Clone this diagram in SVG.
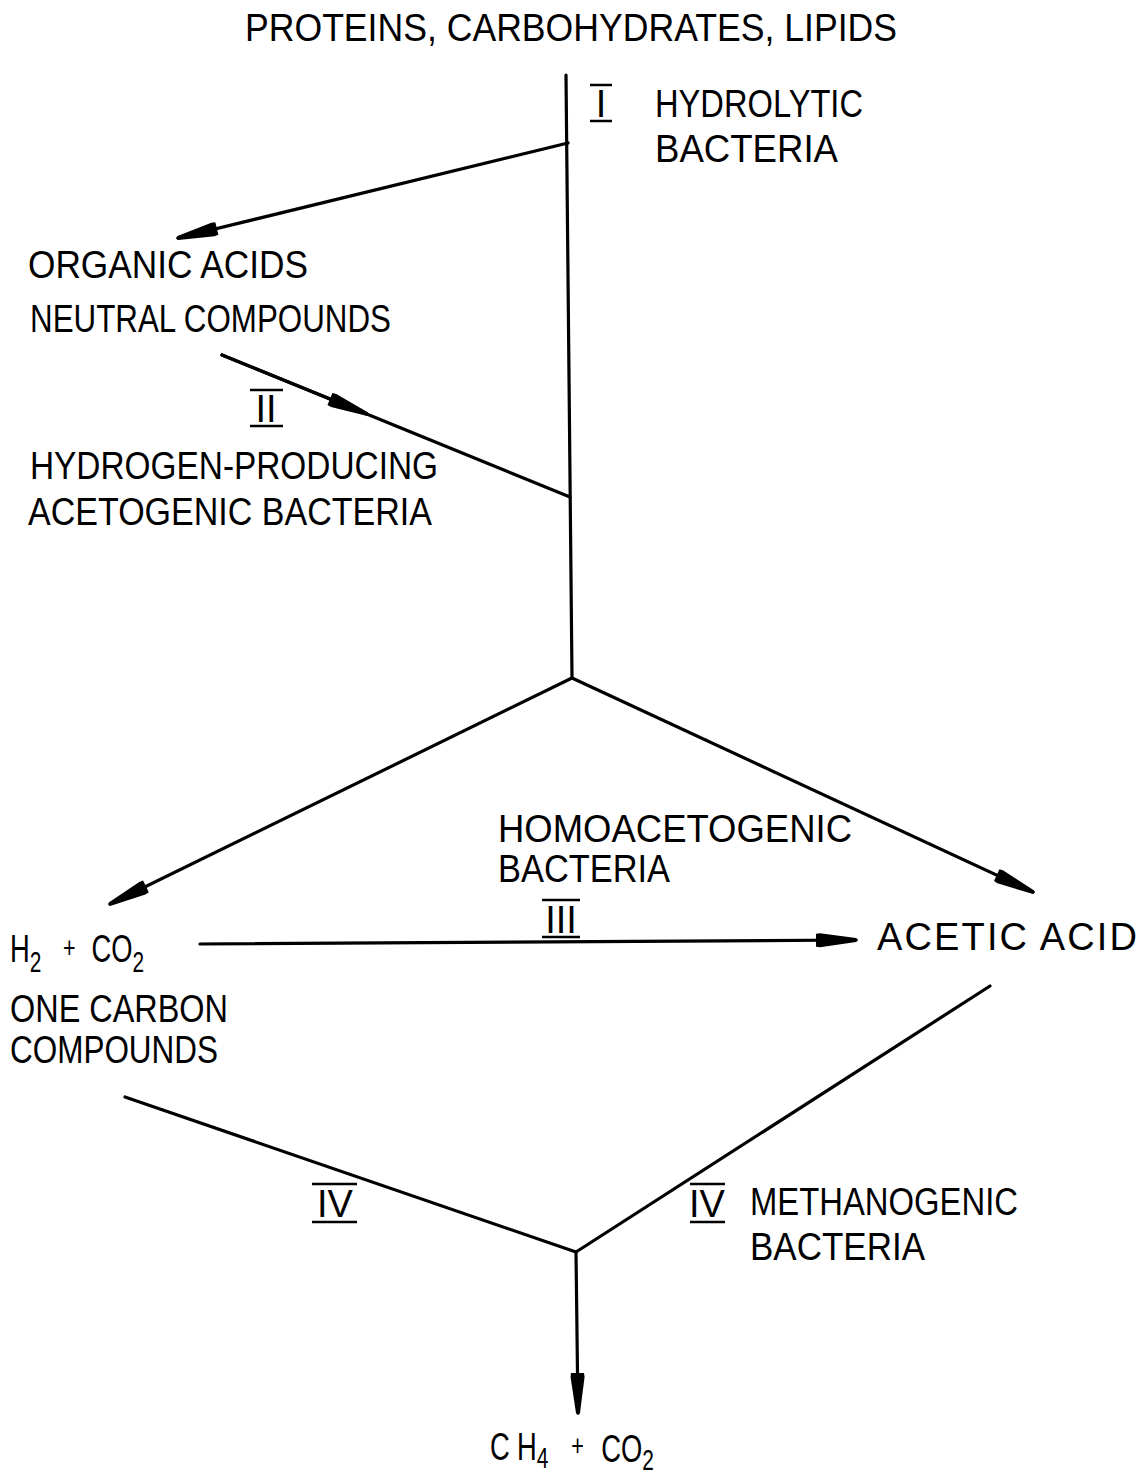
<svg xmlns="http://www.w3.org/2000/svg" width="1147" height="1477" viewBox="0 0 1147 1477">
<style>
text { font-family: "Liberation Sans", Arial, sans-serif; font-size: 38px; fill: #000; }
.sub { font-size: 29px; }
.plus { font-size: 30px; }
.num { text-anchor: middle; }
.ln { stroke: #000; stroke-width: 3.2; fill: none; stroke-linecap: round; }
.bar { stroke: #000; stroke-width: 2.5; }
</style>
<defs>
<marker id="ah" markerUnits="userSpaceOnUse" viewBox="-44 -9 46 18" refX="0" refY="0" markerWidth="46" markerHeight="18" orient="auto">
<path d="M-40,-6.5 L-36,-7 L0,-2 L2,0 L0,2 L-36,7 L-40,6.5 Z" fill="#000"/>
</marker>
</defs>
<rect width="1147" height="1477" fill="#fff"/>

<g id="connectors">
<line class="ln" x1="566" y1="75" x2="572" y2="678"/>
<line class="ln" x1="568" y1="143" x2="178" y2="238" marker-end="url(#ah)"/>
<line class="ln" x1="222" y1="355" x2="570" y2="497"/>
<line class="ln" x1="222" y1="355" x2="367" y2="414" marker-end="url(#ah)"/>
<line class="ln" x1="572" y1="678" x2="110" y2="904" marker-end="url(#ah)"/>
<line class="ln" x1="572" y1="678" x2="1033" y2="892" marker-end="url(#ah)"/>
<line class="ln" x1="200" y1="944" x2="856" y2="940" marker-end="url(#ah)"/>
<line class="ln" x1="990" y1="986" x2="576" y2="1252"/>
<line class="ln" x1="125" y1="1097" x2="576" y2="1252"/>
<line class="ln" x1="576" y1="1252" x2="578" y2="1413" marker-end="url(#ah)"/>
</g>

<g id="n-substrates">
<text x="245" y="41" textLength="652" lengthAdjust="spacingAndGlyphs">PROTEINS, CARBOHYDRATES, LIPIDS</text>
</g>

<g id="n-hydrolytic">
<line class="bar" x1="590" y1="85" x2="612" y2="85"/>
<text class="num" x="601" y="117">I</text>
<line class="bar" x1="590" y1="121" x2="612" y2="121"/>
<text x="655" y="117" textLength="208" lengthAdjust="spacingAndGlyphs">HYDROLYTIC</text>
<text x="655" y="162" textLength="183" lengthAdjust="spacingAndGlyphs">BACTERIA</text>
</g>

<g id="n-organic">
<text x="28" y="278" textLength="280" lengthAdjust="spacingAndGlyphs">ORGANIC ACIDS</text>
<text x="30" y="332" textLength="361" lengthAdjust="spacingAndGlyphs">NEUTRAL COMPOUNDS</text>
</g>

<g id="n-acetogenic">
<line class="bar" x1="250" y1="390" x2="283" y2="390"/>
<text class="num" x="266" y="422">II</text>
<line class="bar" x1="250" y1="426" x2="283" y2="426"/>
<text x="30" y="479" textLength="408" lengthAdjust="spacingAndGlyphs">HYDROGEN-PRODUCING</text>
<text x="28" y="525" textLength="404" lengthAdjust="spacingAndGlyphs">ACETOGENIC BACTERIA</text>
</g>

<g id="n-homoacetogenic">
<text x="498" y="842" textLength="354" lengthAdjust="spacingAndGlyphs">HOMOACETOGENIC</text>
<text x="498" y="882" textLength="172" lengthAdjust="spacingAndGlyphs">BACTERIA</text>
<line class="bar" x1="542" y1="900" x2="580" y2="900"/>
<text class="num" x="561" y="933">III</text>
<line class="bar" x1="542" y1="937" x2="580" y2="937"/>
</g>

<g id="n-h2co2">
<text x="10" y="962" transform="translate(10 962) scale(0.72 1) translate(-10 -962)">H<tspan class="sub" dy="10">2</tspan><tspan class="plus" dx="30" dy="-14">+</tspan><tspan dx="22" dy="4">CO</tspan><tspan class="sub" dy="10">2</tspan></text>
<text x="10" y="1022" textLength="218" lengthAdjust="spacingAndGlyphs">ONE CARBON</text>
<text x="10" y="1063" textLength="208" lengthAdjust="spacingAndGlyphs">COMPOUNDS</text>
</g>

<g id="n-acetic">
<text x="877" y="950" textLength="260" lengthAdjust="spacing">ACETIC ACID</text>
</g>

<g id="n-methanogenic-left">
<line class="bar" x1="312" y1="1184" x2="357" y2="1184"/>
<text class="num" x="335" y="1217">IV</text>
<line class="bar" x1="312" y1="1222" x2="357" y2="1222"/>
</g>

<g id="n-methanogenic">
<line class="bar" x1="690" y1="1184" x2="725" y2="1184"/>
<text class="num" x="707" y="1217">IV</text>
<line class="bar" x1="690" y1="1222" x2="725" y2="1222"/>
<text x="750" y="1215" textLength="268" lengthAdjust="spacingAndGlyphs">METHANOGENIC</text>
<text x="750" y="1260" textLength="175" lengthAdjust="spacingAndGlyphs">BACTERIA</text>
</g>

<g id="n-products">
<text x="490" y="1460" transform="translate(490 1460) scale(0.72 1) translate(-490 -1460)">C<tspan dx="10">H</tspan><tspan class="sub" dy="8">4</tspan><tspan class="plus" dx="32" dy="-12">+</tspan><tspan dx="24" dy="6">CO</tspan><tspan class="sub" dy="8">2</tspan></text>
</g>
</svg>
